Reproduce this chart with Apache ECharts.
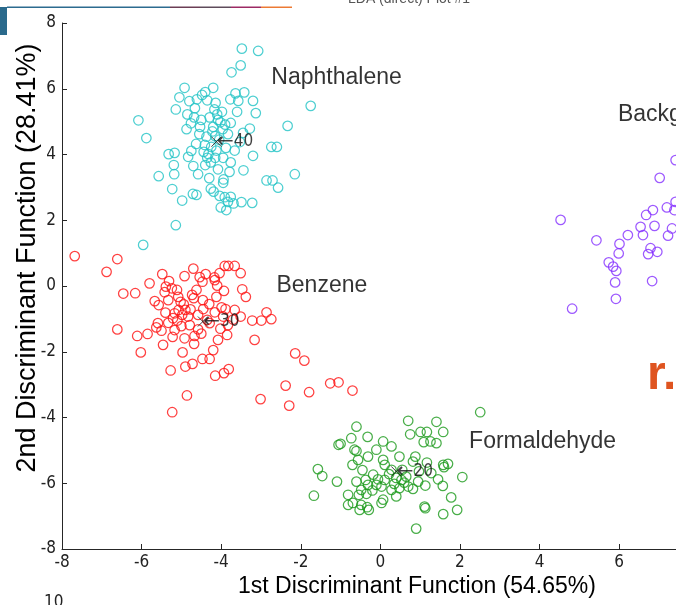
<!DOCTYPE html>
<html>
<head>
<meta charset="utf-8">
<script src="https://cdn.jsdelivr.net/npm/echarts@6/dist/echarts.min.js"></script>
<style>
html,body{margin:0;padding:0;background:#fff;}
#chart{width:676px;height:605px;}
</style>
</head>
<body>
<div id="chart"></div>
<script>
const narrowFont = "'Liberation Sans Narrow','DejaVu Sans Condensed',Arial,sans-serif";
const sansFont = "'Liberation Sans',Arial,sans-serif";

const xTicks = [-8, -6, -4, -2, 0, 2, 4, 6];
const yTicks = [-8, -6, -4, -2, 0, 2, 4, 6, 8];

const naphthalene = [
  [-3.48,7.22],[-3.07,7.15],[-3.51,6.71],[-3.74,6.50],[-4.92,6.03],[-4.20,6.03],[-5.05,5.74],[-4.80,5.62],
  [-4.61,5.68],[-4.48,5.81],[-4.35,5.65],[-4.14,5.57],[-3.77,5.68],[-3.64,5.86],[-3.42,5.89],[-3.57,5.63],
  [-3.20,5.63],[-5.14,5.37],[-4.66,5.41],[-4.17,5.37],[-3.13,5.26],[-1.75,5.48],[-6.08,5.04],[-4.68,5.13],
  [-4.50,5.05],[-4.29,5.13],[-4.08,5.05],[-3.90,4.91],[-3.76,4.96],[-4.76,4.95],[-4.87,4.77],[-4.53,4.84],
  [-4.20,4.84],[-3.96,4.77],[-3.28,4.79],[-3.45,4.66],[-2.33,4.87],[-5.88,4.50],[-4.37,4.54],[-4.15,4.56],
  [-3.83,4.62],[-3.53,4.38],[-4.41,4.29],[-4.25,4.23],[-5.32,4.01],[-5.17,4.05],[-4.75,4.11],[-4.44,4.08],
  [-4.32,4.01],[-3.20,3.96],[-2.74,4.23],[-2.60,4.23],[-4.83,3.93],[-4.35,3.90],[-4.15,3.90],[-5.19,3.68],
  [-4.70,3.65],[-4.40,3.68],[-4.26,3.76],[-3.76,3.76],[-5.57,3.34],[-5.18,3.40],[-4.08,3.55],[-3.79,3.47],
  [-3.44,3.52],[-3.94,3.24],[-3.95,3.14],[-2.86,3.21],[-2.71,3.21],[-2.15,3.40],[-2.57,2.99],[-5.23,2.95],
  [-4.26,2.96],[-4.19,2.87],[-4.71,2.80],[-4.62,2.77],[-4.04,2.74],[-3.91,2.70],[-3.76,2.71],[-4.98,2.60],
  [-3.83,2.56],[-3.69,2.51],[-3.49,2.55],[-3.22,2.53],[-4.01,2.39],[-3.87,2.31],[-5.14,1.85],[-5.96,1.25],
  [-4.10,5.22],[-4.02,4.98],[-3.98,5.30],[-4.22,4.70],[-4.05,4.45],[-3.88,4.20],[-4.55,4.62],[-4.63,4.32],
  [-4.12,4.12],[-3.66,4.12],[-4.58,3.40],[-4.30,3.28],[-3.60,5.30],[-4.40,5.90],[-3.95,3.90],[-4.85,5.22]
];

const benzene = [
  [-7.68,0.91],[-6.61,0.82],[-6.88,0.43],[-6.46,-0.23],[-6.16,-0.22],[-5.80,0.08],[-5.48,0.36],[-5.31,0.15],
  [-5.39,-0.02],[-5.42,-0.19],[-5.24,-0.07],[-5.11,-0.12],[-4.92,0.30],[-4.70,0.53],[-4.54,0.27],[-4.39,0.36],
  [-4.47,0.13],[-4.16,0.18],[-4.10,0.01],[-4.17,0.26],[-4.04,0.39],[-3.91,0.61],[-3.82,0.61],[-3.66,0.61],
  [-3.51,0.39],[-3.93,-0.15],[-3.47,-0.10],[-3.38,-0.33],[-5.67,-0.46],[-5.57,-0.58],[-5.33,-0.43],[-5.40,-0.81],
  [-5.17,-0.83],[-4.94,-0.56],[-4.73,-0.27],[-4.69,-0.37],[-4.90,-0.73],[-4.77,-0.71],[-4.45,-0.70],[-4.16,-0.80],
  [-3.99,-0.65],[-3.89,-0.70],[-3.66,-0.73],[-3.51,-0.93],[-3.22,-1.05],[-2.99,-1.05],[-2.86,-0.80],[-2.74,-1.01],
  [-6.61,-1.32],[-6.11,-1.52],[-5.85,-1.46],[-5.63,-1.26],[-5.50,-1.36],[-5.33,-1.12],[-5.10,-1.05],[-5.17,-1.34],
  [-5.00,-1.22],[-4.92,-1.59],[-4.67,-1.52],[-4.58,-1.32],[-4.29,-1.13],[-4.08,-1.64],[-3.85,-1.49],[-3.16,-1.64],
  [-5.46,-1.79],[-4.68,-1.76],[-6.02,-2.02],[-4.97,-2.02],[-4.20,-1.95],[-4.47,-2.22],[-4.29,-2.22],[-4.72,-2.37],
  [-4.90,-2.45],[-5.27,-2.57],[-4.15,-2.73],[-3.93,-2.65],[-3.81,-2.53],[-4.86,-3.33],[-5.23,-3.84],[-3.01,-3.44],
  [-2.38,-3.03],[-2.29,-3.64],[-1.79,-3.23],[-2.14,-2.05],[-1.91,-2.27],[-1.26,-2.96],[-1.05,-2.93],[-0.70,-3.18],
  [-4.83,-0.93],[-5.07,-0.73],[-5.21,-0.98],[-4.58,-0.88],[-4.35,-1.03],[-3.95,-0.93],[-3.83,-1.19],[-4.79,-1.19],
  [-4.46,-0.43],[-4.12,-0.33],[-5.08,-0.33],[-5.59,-1.13],[-4.62,-0.12],[-4.30,-0.55],[-5.02,-0.48],[-4.98,-0.88],
  [-4.50,-1.45],[-5.22,-1.55],[-4.02,-1.30],[-3.70,-1.02]
];

const formaldehyde = [
  [2.51,-3.84],[0.70,-4.10],[1.41,-4.13],[1.58,-4.44],[0.75,-4.51],[1.01,-4.44],[1.17,-4.44],[1.09,-4.75],
  [1.26,-4.73],[1.41,-4.78],[-0.60,-4.28],[-0.73,-4.63],[-0.32,-4.59],[-1.05,-4.83],[-1.00,-4.80],[0.07,-4.73],
  [-0.65,-4.98],[-0.60,-5.02],[-0.10,-4.98],[0.28,-4.88],[-0.31,-5.19],[-0.56,-5.29],[-0.70,-5.44],[0.07,-5.29],
  [0.11,-5.44],[0.48,-5.19],[0.88,-5.19],[0.82,-5.34],[1.17,-5.37],[1.58,-5.44],[1.70,-5.41],[1.60,-5.51],
  [-1.57,-5.57],[-1.46,-5.78],[-1.09,-5.95],[-0.60,-5.95],[-0.37,-5.90],[-0.18,-5.74],[-0.06,-5.88],[0.28,-5.59],
  [0.55,-5.59],[0.65,-5.80],[0.97,-5.64],[1.13,-6.07],[1.45,-5.88],[1.57,-6.08],[2.06,-5.81],[-1.67,-6.38],
  [-0.81,-6.35],[-0.54,-6.35],[-0.35,-6.32],[-0.10,-6.05],[0.03,-6.10],[0.28,-6.20],[0.48,-6.15],[0.70,-6.10],
  [0.82,-6.17],[0.40,-6.40],[1.78,-6.43],[-0.81,-6.66],[-0.69,-6.60],[-0.48,-6.66],[-0.33,-6.73],[-0.29,-6.81],
  [0.03,-6.60],[0.07,-6.50],[1.11,-6.71],[1.13,-6.76],[1.93,-6.81],[1.58,-6.94],[0.90,-7.38],[-0.48,-6.20],
  [-0.31,-6.05],[0.40,-5.84],[0.53,-5.90],[0.11,-5.90],[-0.52,-6.81],[1.28,-5.69],[0.22,-5.72],[0.60,-5.98],
  [-0.20,-6.22],[0.95,-5.95],[0.35,-6.02],[-0.45,-5.60]
];

const background = [
  [4.53,2.01],[5.43,1.39],[6.22,1.55],[6.01,1.28],[5.99,0.99],[5.74,0.72],[5.85,0.59],[5.93,0.46],
  [5.90,0.11],[5.92,-0.39],[4.82,-0.69],[6.83,0.15],[6.73,0.97],[6.79,1.15],[6.96,1.04],[6.60,1.55],
  [6.54,1.80],[6.68,2.16],[6.85,2.31],[6.89,1.83],[7.20,2.39],[7.23,1.53],[7.33,1.75],[7.39,2.31],
  [7.42,2.56],[7.02,3.29],[7.42,3.83]
];

// group centroids with their annotation numbers
const centroids = [[-4.12,4.39,'40'],[-4.46,-1.08,'30'],[0.40,-5.64,'20']];

// cluster name annotations
const clusterLabels = [[-2.74,6.35,'Naphthalene'],[-2.61,0.0,'Benzene'],[2.23,-4.73,'Formaldehyde'],[5.97,5.21,'Background']];

const xName = '1st Discriminant Function (54.65%)';
const yName = '2nd Discriminant Function (28.41%)';

var myChart = echarts.init(document.getElementById('chart'), null, {renderer:'canvas'});

function circles(name, data, color){
  return {
    name: name,
    type: 'scatter',
    data: data,
    symbol: 'circle',
    symbolSize: 9.5,
    clip: false,
    itemStyle: {color:'rgba(0,0,0,0)', borderColor:color, borderWidth:1.25},
    emphasis: {disabled:true},
    z: 2
  };
}

var option = {
  backgroundColor: '#fff',
  animation: false,
  grid: {left:62, right:0, top:23, bottom:56, outerBoundsMode:'none', containLabel:false},
  xAxis: {
    type: 'value', min: -8, max: 7.43, interval: 2,
    name: xName, nameLocation: 'middle', nameGap: 26, nameMoveOverlap: false,
    nameTextStyle: {fontFamily:sansFont, fontSize:23, color:'#000', padding:[0,0,0,96]},
    axisLine: {onZero:false, lineStyle:{color:'#262626', width:1}},
    axisTick: {inside:true, length:5, lineStyle:{color:'#262626'}},
    axisLabel: {fontFamily:narrowFont, fontSize:17, color:'#222', margin:5, showMaxLabel:false,
      formatter: v => xTicks.indexOf(v) >= 0 ? String(v) : ''},
    splitLine: {show:false}
  },
  yAxis: {
    type: 'value', min: -8, max: 8, interval: 2,
    name: yName, nameLocation: 'middle', nameGap: 21, nameMoveOverlap: false,
    nameTextStyle: {fontFamily:sansFont, fontSize:27, color:'#000', padding:[0,0,0,56]},
    axisLine: {onZero:false, lineStyle:{color:'#262626', width:1}},
    axisTick: {inside:true, length:5, lineStyle:{color:'#262626'}},
    axisLabel: {fontFamily:narrowFont, fontSize:17, color:'#222', margin:6,
      formatter: v => yTicks.indexOf(v) >= 0 ? String(v) : ''},
    splitLine: {show:false}
  },
  series: [
    circles('Naphthalene', naphthalene, '#22c3c6'),
    circles('Benzene', benzene, '#ff1010'),
    circles('Formaldehyde', formaldehyde, '#1c9a1c'),
    circles('Background', background, '#8530ff'),
    {
      name: 'centroid',
      type: 'scatter',
      data: centroids,
      symbol: 'path://M0 0L10 10M10 0L0 10',
      symbolSize: 10,
      itemStyle: {color:'rgba(0,0,0,0)', borderColor:'#111', borderWidth:1},
      label: {
        show: true, position: 'right', distance: -5,
        formatter: p => '{a|←}{n|' + p.value[2] + '}',
        rich: {
          a: {fontFamily:"'DejaVu Sans',sans-serif", fontSize:20, color:'#111'},
          n: {fontFamily:narrowFont, fontSize:17, color:'#111'}
        }
      },
      emphasis: {disabled:true},
      z: 3
    },
    {
      name: 'names',
      type: 'scatter',
      data: clusterLabels,
      symbolSize: 0,
      clip: false,
      label: {
        show: true, position: 'right', distance: 0,
        formatter: p => p.value[2],
        fontFamily: sansFont, fontSize: 23, color: '#000', textBorderWidth: 0
      },
      emphasis: {disabled:true},
      z: 4
    }
  ],
  graphic: [
    {type:'rect', shape:{x:0, y:7, width:7, height:28}, style:{fill:'#2a6a8c'}},
    {type:'rect', shape:{x:7, y:6.5, width:163, height:1.5}, style:{fill:'#2c6b8f'}},
    {type:'rect', shape:{x:170, y:6.5, width:30, height:1.5}, style:{fill:'#6b3d55'}},
    {type:'rect', shape:{x:200, y:6.5, width:31, height:1.5}, style:{fill:'#5e4b5b'}},
    {type:'rect', shape:{x:231, y:6.5, width:30, height:1.5}, style:{fill:'#9c2a64'}},
    {type:'rect', shape:{x:261, y:6.5, width:31, height:1.5}, style:{fill:'#ec7a34'}},
    {type:'text', left:348, top:-8, style:{text:'LDA (direct) Plot #1', fontFamily:sansFont, fontSize:14, fill:'#555'}},
    {type:'text', left:647, top:352, style:{text:'r.', fontFamily:sansFont, fontWeight:'bold', fontSize:48, fill:'#df5420'}},
    {type:'text', left:44, top:594, style:{text:'10', fontFamily:narrowFont, fontSize:17, fill:'#222'}}
  ]
};
myChart.setOption(option);
</script>
</body>
</html>
